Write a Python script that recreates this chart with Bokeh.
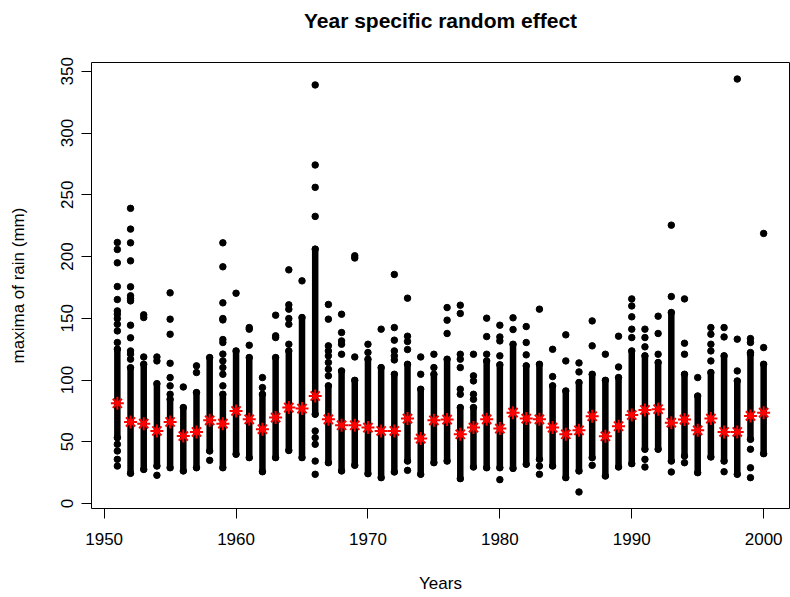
from bokeh.plotting import figure
from bokeh.models import FixedTicker, Range1d, ColumnDataSource, LinearAxis
from bokeh.embed import file_html
from bokeh.resources import INLINE

# ---------------- data ----------------
years = [1951, 1952, 1953, 1954, 1955, 1956, 1957, 1958, 1959, 1960,
         1961, 1962, 1963, 1964, 1965, 1966, 1967, 1968, 1969, 1970,
         1971, 1972, 1973, 1974, 1975, 1976, 1977, 1978, 1979, 1980,
         1981, 1982, 1983, 1984, 1985, 1986, 1987, 1988, 1989, 1990,
         1991, 1992, 1993, 1994, 1995, 1996, 1997, 1998, 1999, 2000]

# lower / upper end of the densely packed band of yearly maxima (mm)
dense_low = [53.4, 24.5, 27.7, 30.4, 29.0, 26.4, 29.0, 42.6, 29.0, 39.9,
             37.2, 25.8, 37.2, 43.0, 37.2, 72.3, 33.1, 26.4, 31.0, 24.2,
             21.0, 25.6, 34.4, 23.7, 33.1, 34.4, 20.2, 29.6, 29.0, 29.0,
             28.5, 31.8, 35.8, 30.4, 21.0, 26.4, 37.2, 22.3, 29.6, 32.3,
             44.0, 44.0, 34.4, 38.5, 25.0, 37.7, 34.4, 23.7, 52.0, 40.4]
dense_high = [125.0, 110.0, 112.8, 97.1, 84.4, 77.7, 89.9, 118.2, 88.5, 123.6,
              118.2, 88.5, 118.2, 123.6, 150.6, 206.0, 95.3, 107.4, 99.8, 116.9,
              110.1, 104.7, 112.8, 92.6, 104.7, 116.9, 77.7, 77.7, 115.5, 112.3,
              129.0, 111.5, 112.8, 95.3, 91.2, 98.0, 104.7, 99.8, 102.0, 123.6,
              119.6, 114.2, 154.7, 104.7, 87.1, 106.1, 119.6, 99.3, 121.0, 112.8]

# isolated observations outside the dense band (mm), one list per year
extra_points = [
    [211.4, 205.7, 194.9, 175.7, 165.2, 156.0, 153.3, 149.8, 145.2, 139.8, 130.4, 48.0, 42.6, 35.8, 30.4],
    [239.0, 222.2, 211.1, 196.5, 175.5, 168.2, 166.0, 164.1, 144.4, 134.2, 123.6, 121.0, 116.9],
    [152.8, 150.6, 118.7],
    [118.7, 115.5, 22.9],
    [170.6, 149.3, 137.1, 113.6, 102.0, 95.3, 88.5],
    [94.4],
    [111.5, 106.1],
    [35.0],
    [211.1, 191.7, 162.5, 149.8, 148.7, 132.8, 130.4, 121.0, 115.5, 110.1, 104.7, 95.3],
    [170.3],
    [142.5, 141.2, 128.2],
    [102.0, 93.9],
    [152.5, 135.8, 134.4],
    [189.2, 160.9, 157.4, 149.8, 145.2, 129.0],
    [180.3],
    [338.9, 274.1, 256.0, 232.5, 58.8, 53.4, 48.0, 34.4, 23.7],
    [161.2, 149.3, 127.7, 123.6, 119.6, 114.2, 108.8, 103.4],
    [153.3, 138.5, 131.7, 129.0, 120.9],
    [200.6, 198.8, 118.7],
    [129.0, 122.3],
    [141.2],
    [185.5, 142.5, 132.3, 123.6, 119.6, 116.3],
    [166.3, 135.5, 131.2, 124.7, 26.9],
    [118.7, 104.7],
    [120.9, 110.1],
    [158.7, 148.5, 137.7],
    [160.6, 153.9, 120.9, 116.9, 110.1, 92.6, 88.5],
    [120.9, 103.4, 99.3, 88.5, 84.4],
    [150.1, 135.2, 120.9],
    [144.4, 134.9, 131.7, 119.6, 19.4],
    [150.4, 140.9],
    [143.3, 130.4, 120.4],
    [157.4, 30.4, 23.7],
    [124.9, 102.8],
    [136.6, 115.5],
    [113.9, 106.6, 9.4],
    [147.9, 127.7, 31.0],
    [120.9],
    [135.5, 110.6],
    [165.7, 160.0, 151.2, 141.2, 134.4],
    [141.2, 134.4, 126.9, 35.8, 29.6],
    [151.7, 137.7, 120.9],
    [225.4, 167.6, 25.6],
    [165.7, 129.8, 120.9, 33.1],
    [102.0],
    [142.5, 137.1, 129.0, 123.6, 115.5],
    [142.5, 134.9, 25.8],
    [343.7, 133.1, 107.4],
    [133.6, 130.4, 122.3, 44.0, 29.0, 21.0],
    [218.7, 126.3],
]

# year specific mean (red stars)
year_means = [81.2, 66.1, 64.7, 58.8, 66.1, 54.7, 58.0, 67.4, 64.7, 75.0,
              68.2, 60.2, 69.6, 77.7, 76.9, 87.1, 68.2, 63.4, 63.4, 61.5,
              58.8, 58.8, 68.8, 52.6, 67.4, 68.0, 56.1, 61.5, 68.2, 60.7,
              73.6, 68.8, 68.2, 61.5, 56.1, 59.3, 70.7, 54.5, 62.6, 71.7,
              75.8, 76.4, 65.5, 68.0, 59.3, 68.8, 58.0, 58.0, 71.0, 73.6]

x_ticks = [1950, 1960, 1970, 1980, 1990, 2000]
y_ticks = [0, 50, 100, 150, 200, 250, 300, 350]
title_text = "Year specific random effect"

# ---------------- build sources ----------------
band_src = ColumnDataSource(dict(x=years, lo=dense_low, hi=dense_high))
ex_x, ex_y = [], []
for yr, pts in zip(years, extra_points):
    for v in pts:
        ex_x.append(yr)
        ex_y.append(v)
pts_src = ColumnDataSource(dict(x=ex_x + years + years, y=ex_y + dense_low + dense_high))
mean_src = ColumnDataSource(dict(x=years, y=year_means))

all_y = ex_y + dense_low + dense_high
ymin, ymax = min(all_y), max(all_y)
ypad = 0.04 * (ymax - ymin)
xpad = 0.04 * (max(years) - min(years))

FONT = "Liberation Sans"

p = figure(width=790, height=597, output_backend="svg", toolbar_location=None,
           x_range=Range1d(min(years) - xpad, max(years) + xpad),
           y_range=Range1d(ymin - ypad, ymax + ypad),
           min_border_left=91, min_border_right=1, min_border_top=62, min_border_bottom=89,
           x_axis_label="Years", y_axis_label="maxima of rain (mm)")

p.background_fill_color = "white"
p.border_fill_color = "white"
p.outline_line_color = "black"
p.outline_line_width = 1
p.xgrid.grid_line_color = None
p.ygrid.grid_line_color = None

bottom_axis = p.below[0]
left_axis = p.left[0]

for ax in (bottom_axis, left_axis):
    ax.axis_line_color = None
    ax.major_tick_line_color = "black"
    ax.major_tick_out = 10
    ax.major_tick_in = 0
    ax.minor_tick_line_color = None
    ax.major_label_text_font = FONT
    ax.major_label_text_font_size = "17px"
    ax.major_label_text_color = "black"
    ax.axis_label_text_font = FONT
    ax.axis_label_text_font_size = "17px"
    ax.axis_label_text_font_style = "normal"
    ax.axis_label_text_color = "black"

bottom_axis.ticker = FixedTicker(ticks=x_ticks)
left_axis.ticker = FixedTicker(ticks=y_ticks)
left_axis.major_label_orientation = "vertical"
bottom_axis.major_label_standoff = 14
left_axis.major_label_standoff = 8
bottom_axis.axis_label_standoff = 26
left_axis.axis_label_standoff = 31

# title drawn as the label of a tick-less axis above the frame
top_axis = LinearAxis(ticker=FixedTicker(ticks=[]), axis_label=title_text,
                      axis_line_color=None, major_tick_line_color=None,
                      minor_tick_line_color=None, major_tick_out=0, major_tick_in=0,
                      major_label_standoff=0, axis_label_standoff=31,
                      axis_label_text_font=FONT, axis_label_text_font_size="21px",
                      axis_label_text_font_style="bold", axis_label_text_color="black")
p.add_layout(top_axis, "above")

# dense bands of points
p.segment(x0="x", y0="lo", x1="x", y1="hi", source=band_src,
          line_color="black", line_width=6.5, line_cap="round")
# individual points
p.scatter(x="x", y="y", source=pts_src, marker="circle", size=6.5,
          fill_color="black", line_color="black")
# year means
p.scatter(x="x", y="y", source=mean_src, marker="asterisk", size=13,
          line_color="red", line_width=2)

open("out.html", "w").write(file_html(p, INLINE))
